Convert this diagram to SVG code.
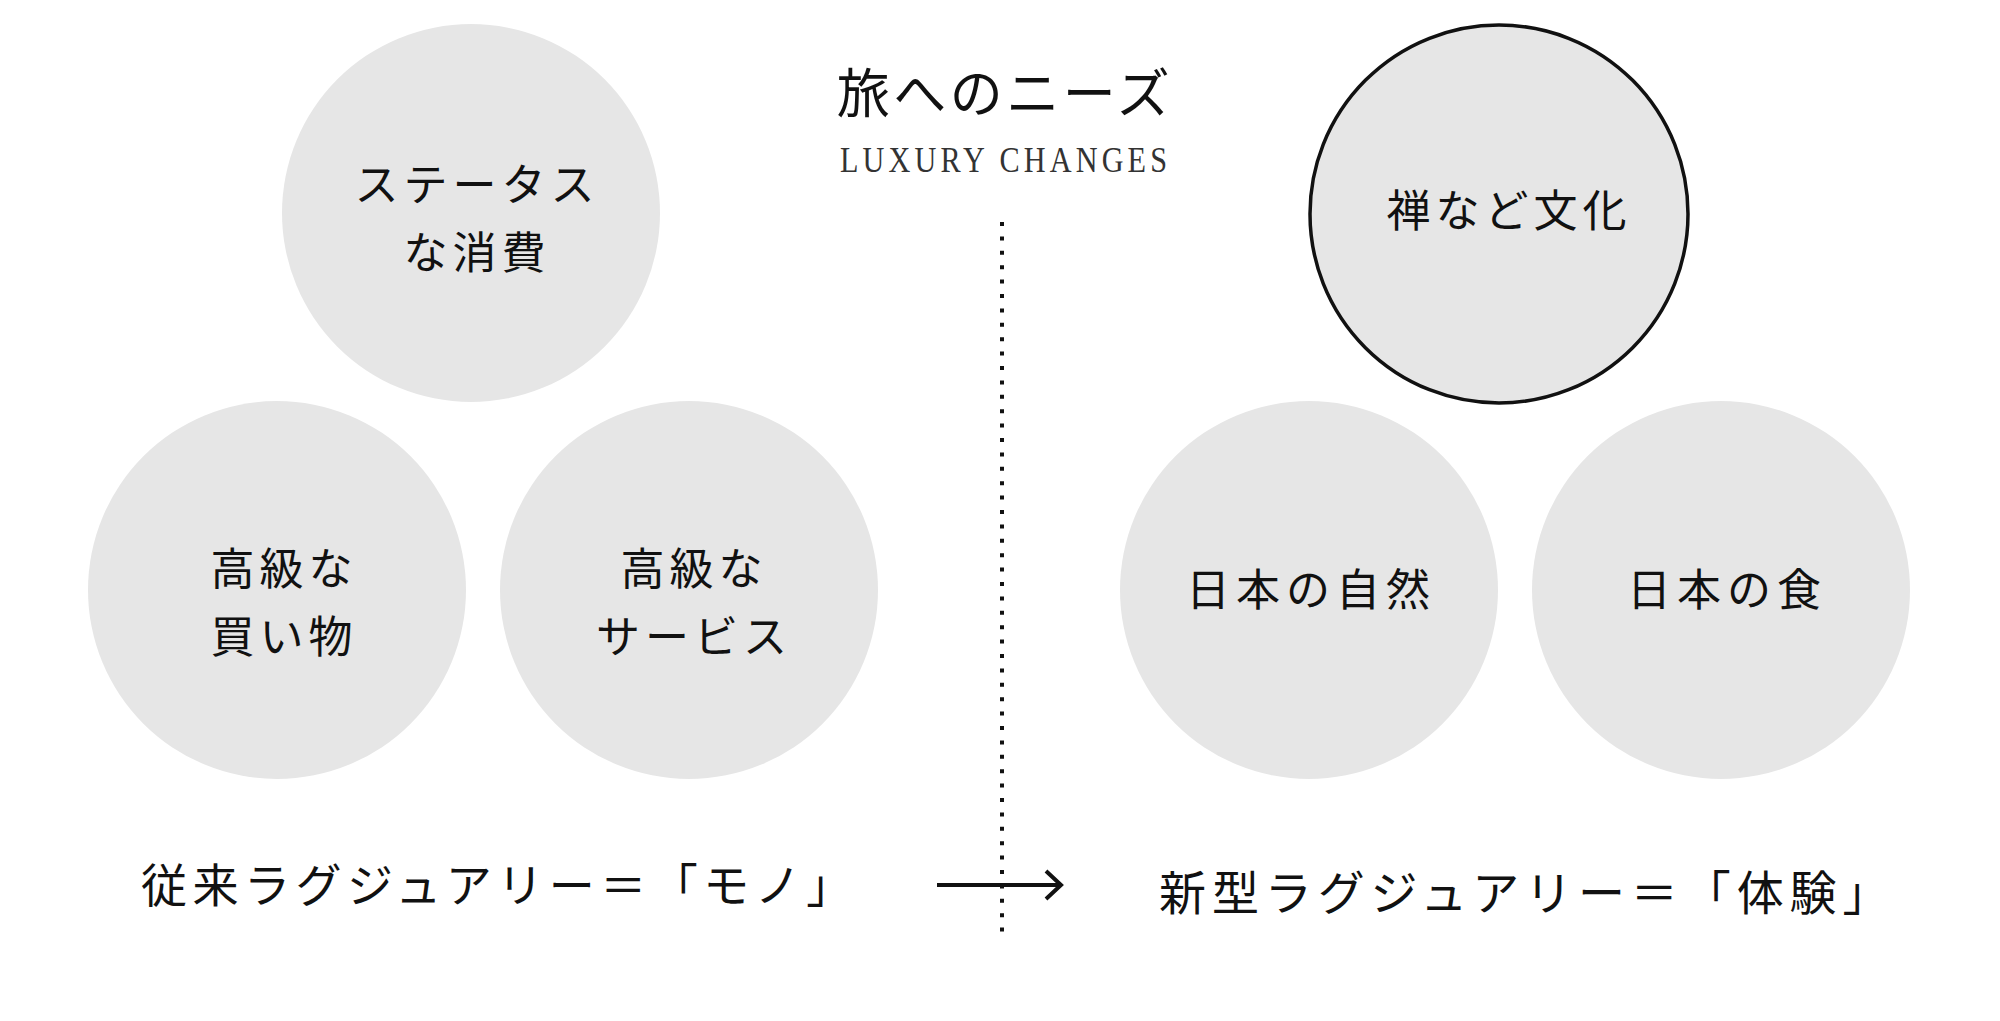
<svg xmlns="http://www.w3.org/2000/svg" width="2000" height="1021" viewBox="0 0 2000 1021">
<style>
.bg{fill:#ffffff}
.c{fill:#e6e6e6}
.cs{fill:#e6e6e6;stroke:#111;stroke-width:3.5}
.t{font-family:"Noto Sans CJK JP","Noto Sans CJK SC",sans-serif;fill:#111;text-anchor:middle}
.ct{font-size:44px;letter-spacing:5px}
.bt{font-size:46px;letter-spacing:5.5px;text-anchor:start}
.title{font-size:53px;letter-spacing:3.5px}
.sub{font-family:"Liberation Serif",serif;font-size:36px;fill:#333;letter-spacing:4.9px}
.dot{stroke:#111;stroke-width:4;stroke-dasharray:4 10.4;fill:none}
.arr{stroke:#111;stroke-width:4;fill:none}
</style>
<rect class="bg" x="0" y="0" width="2000" height="1021"/>
<g id="title">
<text class="t title" x="1005" y="113">旅へのニーズ</text>
<text class="sub" transform="translate(840,172) scale(0.84,1)">LUXURY CHANGES</text>
</g>
<g id="n-status">
<circle class="c" cx="471" cy="213" r="189"/>
<text class="t ct" x="477" y="201">ステータス</text>
<text class="t ct" x="477" y="269">な消費</text>
</g>
<g id="n-shopping">
<circle class="c" cx="277" cy="590" r="189"/>
<text class="t ct" x="284" y="585">高級な</text>
<text class="t ct" x="284" y="653">買い物</text>
</g>
<g id="n-service">
<circle class="c" cx="689" cy="590" r="189"/>
<text class="t ct" x="694" y="585">高級な</text>
<text class="t ct" x="694" y="653">サービス</text>
</g>
<g id="n-zen">
<circle class="cs" cx="1499" cy="214" r="189"/>
<text class="t ct" x="1509" y="227">禅など文化</text>
</g>
<g id="n-nature">
<circle class="c" cx="1309" cy="590" r="189"/>
<text class="t ct" x="1311" y="606" style="letter-spacing:6px">日本の自然</text>
</g>
<g id="n-food">
<circle class="c" cx="1721" cy="590" r="189"/>
<text class="t ct" x="1727" y="606" style="letter-spacing:6px">日本の食</text>
</g>
<g id="label-old">
<text class="t bt" x="141" y="902">従来ラグジュアリー＝「モノ」</text>
</g>
<g id="label-new">
<text class="t bt" x="1159" y="910" style="font-size:47px;letter-spacing:5.9px">新型ラグジュアリー＝「体験」</text>
</g>
<g id="connectors">
<line class="dot" x1="1002" y1="222" x2="1002" y2="932"/>
<line class="arr" x1="937" y1="885" x2="1061" y2="885"/>
<polyline class="arr" points="1046,871 1061,885 1046,899"/>
</g>
</svg>
